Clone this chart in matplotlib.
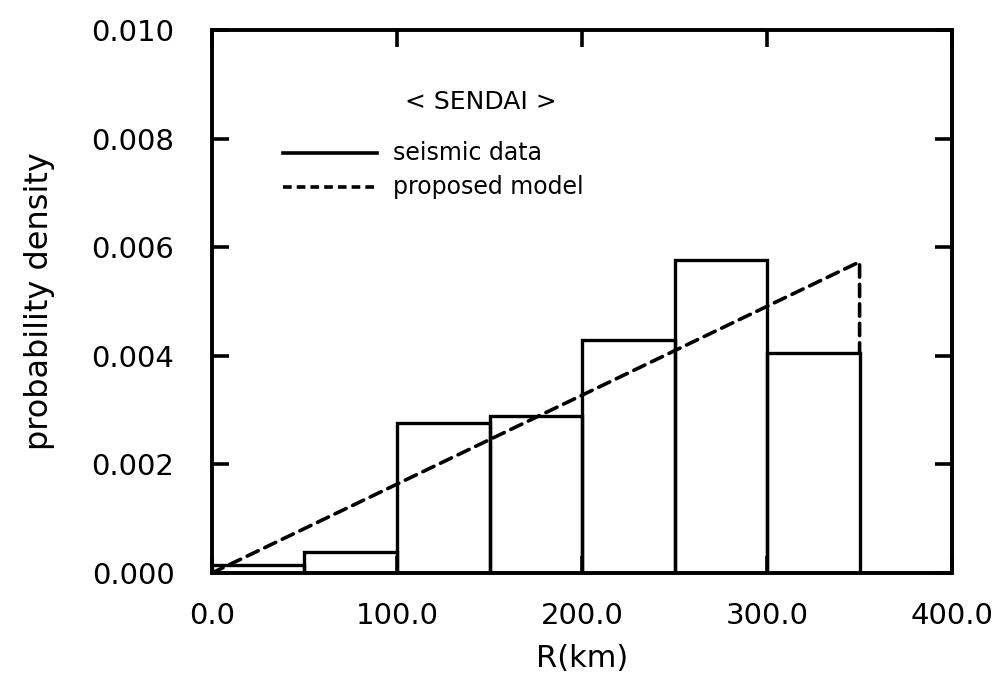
import numpy as np
import matplotlib.pyplot as plt

# histogram of epicentral distance (bin edges in km, density per km)
edges = [0, 50, 100, 150, 200, 250, 300, 350]
density = [0.00015, 0.00039, 0.00276, 0.00289, 0.00429, 0.00576, 0.00405]

# proposed model: linear density up to R = 350 km
model_r = [0, 350, 350]
model_p = [0, 0.00573, 0.00405]

xticks = [0, 100, 200, 300, 400]
yticks = [0.000, 0.002, 0.004, 0.006, 0.008, 0.010]

plt.rcParams['font.family'] = ['DejaVu Sans']

fig = plt.figure(figsize=(10.07, 6.81), dpi=100)
ax = fig.add_axes([0.2105, 0.1586, 0.735, 0.7974])

# bars as outlines
for i in range(len(density)):
    x0, x1 = edges[i], edges[i + 1]
    ax.plot([x0, x0, x1, x1], [0, density[i], density[i], 0],
            color='black', lw=2.4, solid_joinstyle='miter')

ax.plot(model_r, model_p, color='black', lw=2.6, linestyle=(0, (3.4, 2.0)),
        dash_capstyle='round')

ax.set_xlim(0, 400)
ax.set_ylim(0, 0.010)
ax.set_xticks(xticks)
ax.set_xticklabels([f"{v:.1f}" for v in xticks])
ax.set_yticks(yticks)
ax.set_yticklabels([f"{v:.3f}" for v in yticks])
ax.tick_params(direction='in', length=12, width=2.6, labelsize=21,
               top=True, right=True)
ax.tick_params(axis='y', pad=27)
ax.tick_params(axis='x', pad=21)
for s in ax.spines.values():
    s.set_linewidth(2.8)

ax.set_xlabel("R(km)", fontsize=22, labelpad=10)
ax.set_ylabel("probability density", fontsize=23, labelpad=26)

# legend block
ax.text(0.3635, 0.867, "< SENDAI >", transform=ax.transAxes, fontsize=18,
        ha='center', va='center')
ax.plot([0.096, 0.223], [0.7735, 0.7735], transform=ax.transAxes,
        color='black', lw=2.6)
ax.plot([0.096, 0.223], [0.711, 0.711], transform=ax.transAxes,
        color='black', lw=2.6, linestyle=(0, (2.4, 1.4)))
ax.text(0.2446, 0.7735, "seismic data", transform=ax.transAxes, fontsize=17,
        va='center')
ax.text(0.2446, 0.711, "proposed model", transform=ax.transAxes, fontsize=17,
        va='center')

fig.savefig("out.png", dpi=100)
